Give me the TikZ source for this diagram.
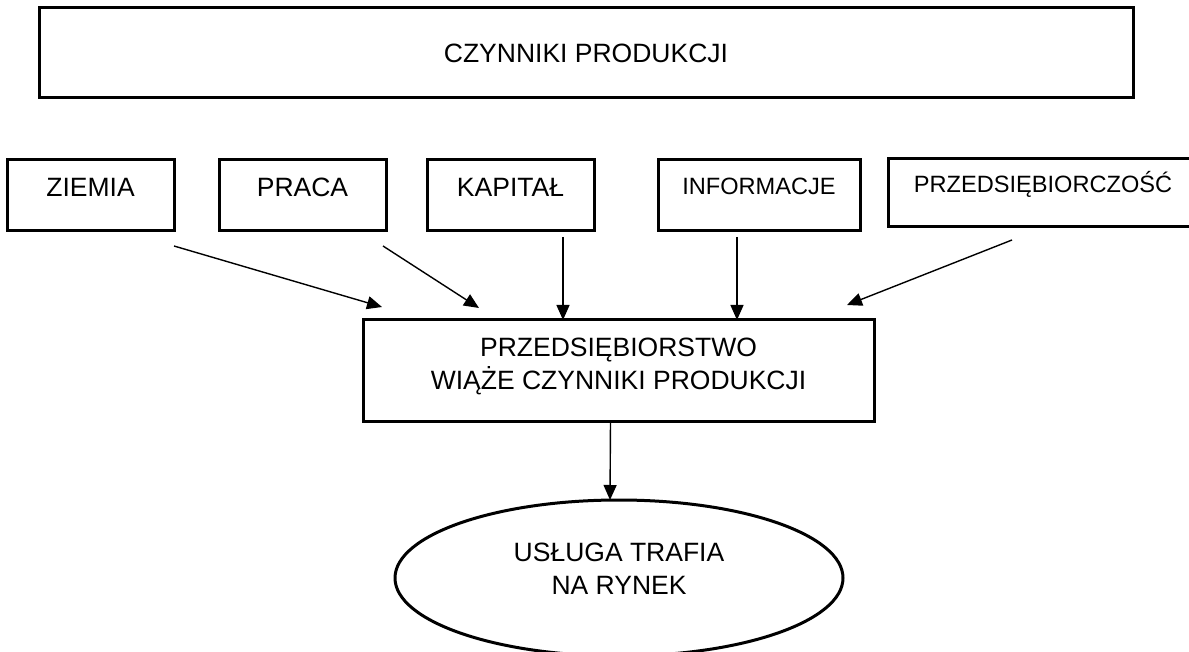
\documentclass[tikz,border=0pt]{standalone}
\usepackage{fontspec}
\setmainfont{Liberation Sans}
\usetikzlibrary{arrows.meta,calc,shapes.geometric}
\tikzset{
  box/.style  = {draw, line width=1.5pt, inner sep=0pt, outer sep=0pt, minimum height=35.5pt,
                 font=\fontsize{13.25}{16.5}\selectfont, text height=9.5pt, text depth=8.5pt},
  sbox/.style = {box, font=\fontsize{11.8}{14}\selectfont, text height=8.45pt, text depth=9pt},
  oval/.style = {ellipse, draw, line width=1.5pt, inner sep=0pt, outer sep=0pt, align=center,
                 minimum width=224pt, minimum height=78pt,
                 font=\fontsize{13.25}{16.5}\selectfont, text height=26pt, text depth=10pt},
  arr/.style  = {-{Triangle[length=7.5pt,width=6.5pt]}, line width=0.7pt},
}
\begin{document}
\begin{tikzpicture}[x=0.5pt,y=-0.5pt]
  \useasboundingbox (0,0) rectangle (1189,652);
  % heading
  \node[box, minimum width=547pt, minimum height=45pt, text depth=0pt] (czynniki) at (586,53) {CZYNNIKI PRODUKCJI};
  % the five factors
  \node[box, minimum width=83.5pt] (ziemia) at (90.5,195.5) {ZIEMIA};
  \node[box, minimum width=83.5pt] (praca) at (302.5,195.5) {PRACA};
  \node[box, minimum width=83.5pt] (kapital) at (510.5,195.5) {KAPITAŁ};
  \node[sbox, minimum width=101pt] (informacje) at (759,195.5) {INFORMACJE};
  \node[sbox, minimum width=155pt, minimum height=34pt] (przeds) at (1043,193) {PRZEDSIĘBIORCZOŚĆ};
  % the firm and the market
  \node[box, align=center, minimum width=255.5pt, minimum height=50.5pt, text height=26pt, text depth=7pt]
    (firma) at (618.5,370.5) {PRZEDSIĘBIORSTWO\\WIĄŻE CZYNNIKI PRODUKCJI};
  \node[oval] (rynek) at (619,578) {USŁUGA TRAFIA\\NA RYNEK};
  % arrows into the firm
  \draw[arr] ($(ziemia.south east)+(0,15)$) -- ($(firma.north west)+(19,-13)$);
  \draw[arr] ($(praca.south east)+(-3,15)$) -- ($(firma.north west)+(116,-12)$);
  \draw[arr] ($(kapital.south east)+(-31,6)$) -- ($(firma.north west)+(200,0)$);
  \draw[arr] ($(informacje.south east)+(-123,6)$) -- ($(firma.north west)+(374,0)$);
  \draw[arr] ($(przeds.south west)+(124,13)$) -- ($(firma.north east)+(-27,-15)$);
  \draw[arr] ($(firma.south)+(-8,0)$) -- ($(rynek.north)+(-9,0)$);
\end{tikzpicture}
\end{document}
